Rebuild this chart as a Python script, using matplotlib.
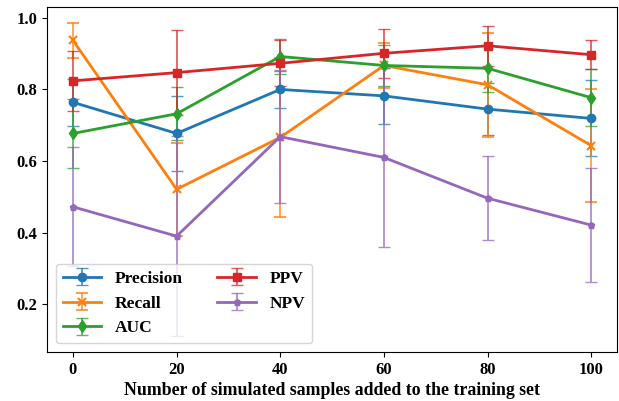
import numpy as np
import matplotlib.pyplot as plt

plt.rcParams['font.family'] = 'Liberation Serif'
plt.rcParams['font.weight'] = 'bold'

x = [0, 20, 40, 60, 80, 100]

precision = [0.764, 0.677, 0.800, 0.782, 0.745, 0.719]
precision_err = [0.066, 0.105, 0.051, 0.079, 0.072, 0.106]
recall = [0.937, 0.521, 0.666, 0.867, 0.813, 0.643]
recall_err = [0.050, 0.130, 0.222, 0.064, 0.146, 0.158]
auc = [0.677, 0.732, 0.892, 0.867, 0.859, 0.777]
auc_err = [0.096, 0.074, 0.048, 0.057, 0.065, 0.080]
ppv = [0.824, 0.847, 0.873, 0.901, 0.922, 0.897]
ppv_err = [0.083, 0.118, 0.064, 0.069, 0.056, 0.040]
npv = [0.472, 0.390, 0.668, 0.610, 0.496, 0.421]
npv_err = [0.166, 0.280, 0.185, 0.250, 0.117, 0.160]

series = [
    ('Precision', precision, precision_err, 'o', 6),
    ('Recall', recall, recall_err, 'x', 6),
    ('AUC', auc, auc_err, 'd', 6),
    ('PPV', ppv, ppv_err, 's', 5.5),
    ('NPV', npv, npv_err, 'p', 5),
]

fig = plt.figure(figsize=(6.19, 4.01), dpi=100)
ax = fig.add_axes([0.076, 0.122, 0.921, 0.861])

for name, vals, err, mk, ms in series:
    eb = ax.errorbar(x, vals, yerr=err, marker=mk, markersize=ms, linewidth=2,
                     elinewidth=1.3, capsize=4, capthick=1.3, label=name,
                     markeredgewidth=1.5 if mk == 'x' else 1)
    for c in eb[1]:
        c.set_alpha(0.75)
    for c in eb[2]:
        c.set_alpha(0.75)

ax.set_xticks(x)
ax.set_yticks([0.2, 0.4, 0.6, 0.8, 1.0])
ax.tick_params(labelsize=12)
ax.set_xlabel('Number of simulated samples added to the training set', fontsize=12.8, fontweight='bold', labelpad=3)
ax.legend(ncol=2, loc='lower left', prop={'weight': 'bold', 'size': 12.5},
          handlelength=2.2, columnspacing=2.0)

fig.savefig('out.png', dpi=100)
